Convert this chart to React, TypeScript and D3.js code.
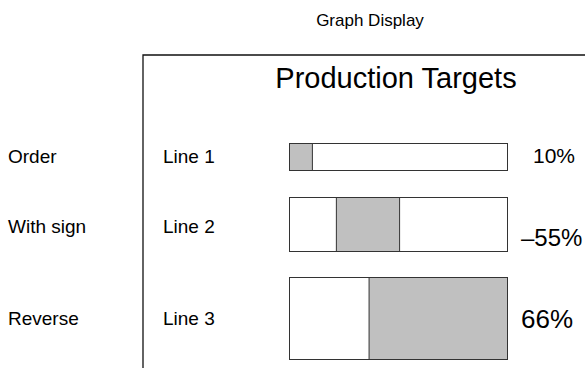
import React from 'react';
import * as d3 from 'd3';

// data
const rowNames = ['Order', 'With sign', 'Reverse'];
const lineNames = ['Line 1', 'Line 2', 'Line 3'];
const valueLabels = ['10%', '–55%', '66%'];
const fillStart = [0, 21.5, 36.5];
const fillEnd = [10.5, 50.5, 100];

// layout
const width = 585,
  height = 368;
const frame = { left: 143, top: 55 };
const barLeft = 289,
  barRight = 507;
const rowBands = [
  [143, 170],
  [197, 251],
  [277, 359],
];
const labelBase = [163, 233, 325];
const pctBase = [163, 246, 328];
const pctX = [533, 521, 521];
const pctSize = [21, 24, 26];
const font = "'Liberation Sans', Arial, sans-serif";

export default function App() {
  const x = d3.scaleLinear().domain([0, 100]).range([barLeft, barRight]);

  return (
    <svg
      width={width}
      height={height}
      style={{ position: 'absolute', left: 0, top: 0, display: 'block' }}
      fontFamily={font}
    >
      <rect x={0} y={0} width={width} height={height} fill="#fff" />
      <text x={370} y={26} textAnchor="middle" fontSize={17} fill="#000">
        Graph Display
      </text>

      {/* frame */}
      <path
        d={`M${width + 2},${frame.top}H${frame.left}V${height + 2}`}
        fill="none"
        stroke="#111"
        strokeWidth={1.3}
      />
      <text x={396} y={88} textAnchor="middle" fontSize={29} fill="#000">
        Production Targets
      </text>

      {rowNames.map((name, i) => {
        const [y0, y1] = rowBands[i];
        return (
          <g key={name}>
            <text x={8} y={labelBase[i]} fontSize={19} fill="#000">
              {name}
            </text>
            <text x={163} y={labelBase[i]} fontSize={19} fill="#000">
              {lineNames[i]}
            </text>
            <rect
              x={x(0) + 0.5}
              y={y0 + 0.5}
              width={x(100) - x(0)}
              height={y1 - y0}
              fill="#fff"
              stroke="#333"
              strokeWidth={1}
            />
            <rect
              x={x(fillStart[i]) + 0.5}
              y={y0 + 0.5}
              width={x(fillEnd[i]) - x(fillStart[i])}
              height={y1 - y0}
              fill="#c0c0c0"
              stroke="#333"
              strokeWidth={1}
            />
            <text x={pctX[i]} y={pctBase[i]} fontSize={pctSize[i]} fill="#000">
              {valueLabels[i]}
            </text>
          </g>
        );
      })}
    </svg>
  );
}
